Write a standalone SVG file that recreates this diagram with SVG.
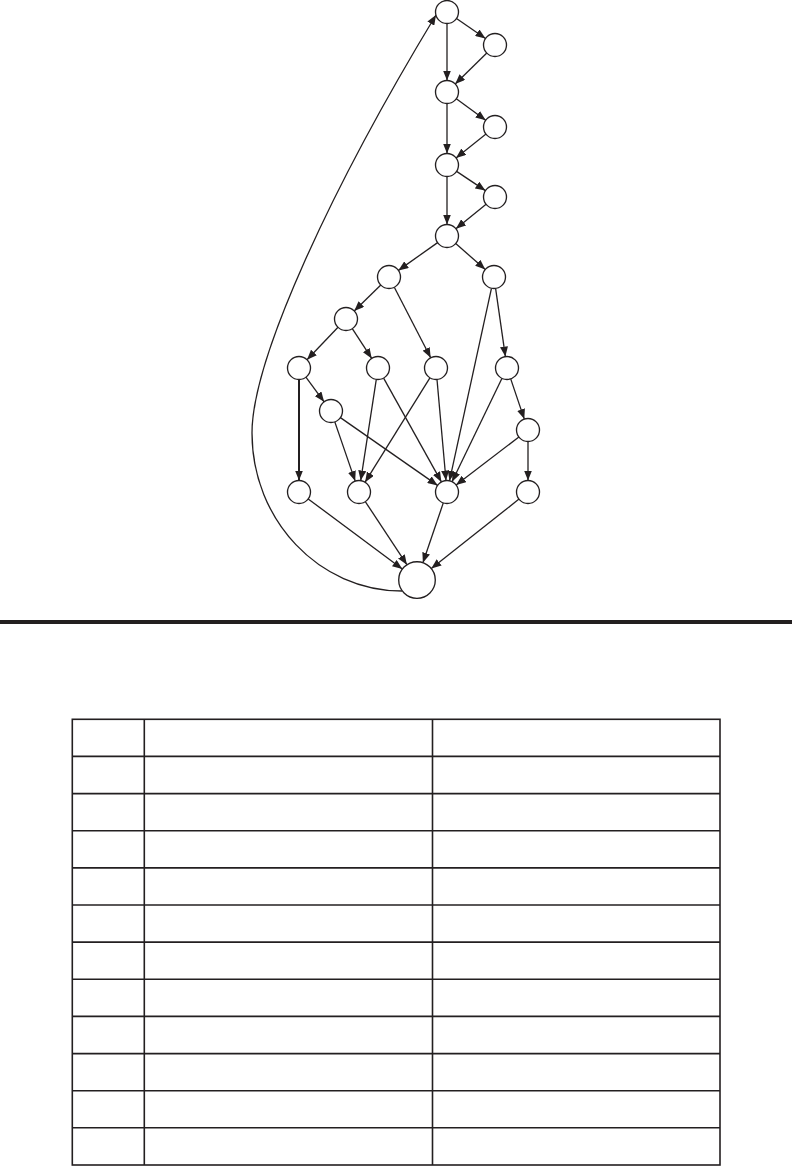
<svg xmlns="http://www.w3.org/2000/svg" width="792" height="1166" viewBox="0 0 792 1166">
<style>
.n{fill:#fff;stroke:#231f20;stroke-width:1.35}
.e{fill:none;stroke:#231f20;stroke-width:1.3;marker-end:url(#ah)}
.t{stroke:#231f20;stroke-width:1.6;fill:none}
</style>
<defs>
<marker id="ah" markerUnits="userSpaceOnUse" viewBox="0 0 10 8" refX="10" refY="4" markerWidth="10" markerHeight="8" orient="auto">
<path d="M0,0 L10,4 L0,8 z" fill="#231f20"/>
</marker>
</defs>
<rect width="792" height="1166" fill="#fff"/>
<g id="connectors">
<line class="e" x1="456.5" y1="18.5" x2="485.5" y2="38.5"/>
<line class="e" x1="447" y1="23.5" x2="447" y2="80.5"/>
<line class="e" x1="486.8" y1="53" x2="455.2" y2="84"/>
<line class="e" x1="456.3" y1="98.8" x2="485.7" y2="120.2"/>
<line class="e" x1="447" y1="103.5" x2="447" y2="153.5"/>
<line class="e" x1="486" y1="134.1" x2="456" y2="157.9"/>
<line class="e" x1="456.6" y1="171.4" x2="485.4" y2="190.6"/>
<line class="e" x1="447" y1="176.5" x2="447" y2="224.5"/>
<line class="e" x1="486.1" y1="204.3" x2="455.9" y2="228.7"/>
<line class="e" x1="437.6" y1="242.6" x2="398.4" y2="270.4"/>
<line class="e" x1="455.7" y1="243.6" x2="485.3" y2="269.4"/>
<line class="e" x1="380.8" y1="285" x2="354.2" y2="311"/>
<line class="e" x1="394.3" y1="287.2" x2="430.7" y2="357.8"/>
<line class="e" x1="491.5" y1="288.2" x2="449.5" y2="480.8"/>
<line class="e" x1="495.6" y1="288.4" x2="505.4" y2="356.6"/>
<line class="e" x1="338" y1="327.3" x2="307" y2="359.7"/>
<line class="e" x1="352.3" y1="328.6" x2="371.7" y2="358.4"/>
<line class="e" x1="299" y1="379.5" x2="299" y2="480.5" style="stroke-width:2"/>
<line class="e" x1="305.9" y1="377.2" x2="324.1" y2="401.8"/>
<line class="e" x1="376.3" y1="379.4" x2="360.7" y2="480.6"/>
<line class="e" x1="383.6" y1="378.1" x2="441.4" y2="481.9"/>
<line class="e" x1="429.9" y1="377.8" x2="365.1" y2="482.2"/>
<line class="e" x1="437" y1="379.5" x2="446" y2="480.5"/>
<line class="e" x1="502" y1="378.3" x2="452" y2="481.7"/>
<line class="e" x1="510.7" y1="378.9" x2="524.3" y2="419.1"/>
<line class="e" x1="334.8" y1="421.9" x2="355.2" y2="481.1"/>
<line class="e" x1="340.4" y1="417.6" x2="437.6" y2="485.4"/>
<line class="e" x1="518.9" y1="437" x2="456.1" y2="485"/>
<line class="e" x1="528" y1="441.5" x2="528" y2="480.5"/>
<line class="e" x1="308.2" y1="498.9" x2="402.3" y2="569.1"/>
<line class="e" x1="365.3" y1="501.6" x2="406.9" y2="564.7"/>
<line class="e" x1="443.3" y1="502.9" x2="422.9" y2="562.7"/>
<line class="e" x1="519" y1="499.1" x2="431.3" y2="568.6"/>
<path class="e" d="M402,591 C319,591 252,520 252,433 C252,360 330,190 436,15"/>
</g>
<g id="nA"><circle class="n" cx="447" cy="12" r="11.5"/></g>
<g id="nB"><circle class="n" cx="495" cy="45" r="11.5"/></g>
<g id="nC"><circle class="n" cx="447" cy="92" r="11.5"/></g>
<g id="nD"><circle class="n" cx="495" cy="127" r="11.5"/></g>
<g id="nE"><circle class="n" cx="447" cy="165" r="11.5"/></g>
<g id="nF"><circle class="n" cx="495" cy="197" r="11.5"/></g>
<g id="nG"><circle class="n" cx="447" cy="236" r="11.5"/></g>
<g id="nH"><circle class="n" cx="389" cy="277" r="11.5"/></g>
<g id="nI"><circle class="n" cx="494" cy="277" r="11.5"/></g>
<g id="nJ"><circle class="n" cx="346" cy="319" r="11.5"/></g>
<g id="nK"><circle class="n" cx="299" cy="368" r="11.5"/></g>
<g id="nL"><circle class="n" cx="378" cy="368" r="11.5"/></g>
<g id="nM"><circle class="n" cx="436" cy="368" r="11.5"/></g>
<g id="nN"><circle class="n" cx="507" cy="368" r="11.5"/></g>
<g id="nO"><circle class="n" cx="331" cy="411" r="11.5"/></g>
<g id="nP"><circle class="n" cx="528" cy="430" r="11.5"/></g>
<g id="nQ"><circle class="n" cx="299" cy="492" r="11.5"/></g>
<g id="nR"><circle class="n" cx="359" cy="492" r="11.5"/></g>
<g id="nS"><circle class="n" cx="447" cy="492" r="11.5"/></g>
<g id="nT"><circle class="n" cx="528" cy="492" r="11.5"/></g>
<g id="nZ"><circle class="n" cx="417" cy="580" r="18.3"/></g>
<rect x="0" y="620" width="792" height="4" fill="#231f20"/>
<g id="table">
<rect class="t" x="72.3" y="719.3" width="647.7" height="445.7"/>
<line class="t" x1="144.3" y1="719.3" x2="144.3" y2="1165"/>
<line class="t" x1="432.5" y1="719.3" x2="432.5" y2="1165"/>
<line class="t" x1="72.3" y1="756.4" x2="720" y2="756.4"/>
<line class="t" x1="72.3" y1="793.6" x2="720" y2="793.6"/>
<line class="t" x1="72.3" y1="830.7" x2="720" y2="830.7"/>
<line class="t" x1="72.3" y1="867.9" x2="720" y2="867.9"/>
<line class="t" x1="72.3" y1="905" x2="720" y2="905"/>
<line class="t" x1="72.3" y1="942.1" x2="720" y2="942.1"/>
<line class="t" x1="72.3" y1="979.3" x2="720" y2="979.3"/>
<line class="t" x1="72.3" y1="1016.4" x2="720" y2="1016.4"/>
<line class="t" x1="72.3" y1="1053.6" x2="720" y2="1053.6"/>
<line class="t" x1="72.3" y1="1090.7" x2="720" y2="1090.7"/>
<line class="t" x1="72.3" y1="1127.8" x2="720" y2="1127.8"/>
</g>
</svg>
